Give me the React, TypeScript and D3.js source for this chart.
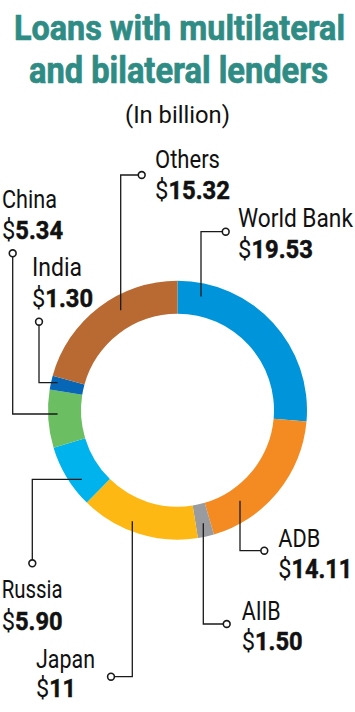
import { useEffect, useRef } from "react";
import * as d3 from "d3";

// lenders, clockwise from 12 o'clock
const lenders = ["World Bank", "ADB", "AIIB", "Japan", "Russia", "China", "India", "Others"];
const amounts = [19.53, 14.11, 1.5, 11, 5.9, 5.34, 1.3, 15.32];
const amountLabels = ["19.53", "14.11", "1.50", "11", "5.90", "5.34", "1.30", "15.32"];
const colors = ["#0095da", "#f38a22", "#999b9e", "#fdb814", "#00b3ec", "#6cbe63", "#0866b7", "#b96a33"];

// label placement (layout only)
type Lay = {
  x: number; ny: number; vy: number; nw: number; vw: number;
  dot: [number, number]; dir: "v" | "h"; at: number; r: number;
};
const layout: Record<string, Lay> = {
  "World Bank": { x: 238, ny: 227, vy: 258, nw: 115, vw: 75, dot: [225.7, 231.7], dir: "v", at: 201, r: 116 },
  Others: { x: 155, ny: 168, vy: 199, nw: 65, vw: 75, dot: [141.7, 175], dir: "v", at: 120.7, r: 115 },
  China: { x: 2, ny: 208, vy: 239, nw: 55, vw: 61, dot: [12.7, 253.3], dir: "h", at: 414, r: 120 },
  India: { x: 32, ny: 276, vy: 306.5, nw: 50, vw: 61, dot: [39, 321.7], dir: "h", at: 382.7, r: 123 },
  Russia: { x: 1.7, ny: 598.3, vy: 630, nw: 61, vw: 61, dot: [32.3, 563.3], dir: "h", at: 479.3, r: 118 },
  Japan: { x: 36, ny: 668.3, vy: 696.7, nw: 59, vw: 40, dot: [111, 676.7], dir: "v", at: 132.3, r: 120 },
  AIIB: { x: 241.7, ny: 620, vy: 650, nw: 39, vw: 61, dot: [226.7, 624], dir: "v", at: 203.3, r: 116 },
  ADB: { x: 278.3, ny: 546.7, vy: 578.3, nw: 42, vw: 74, dot: [264.3, 550.7], dir: "v", at: 240, r: 110 },
};

const FONT = "Roboto, 'Noto Sans', sans-serif";

type Sel = d3.Selection<SVGTextElement, unknown, null, undefined>;

// squeeze a text horizontally so it spans exactly w pixels (condensed look)
function fit(t: Sel, x: number, y: number, w: number) {
  const nat = t.node()!.getComputedTextLength() || w;
  t.attr("transform", `translate(${x},${y}) scale(${w / nat},1)`);
}

export default function App() {
  const width = 355;
  const height = 712;
  const svgRef = useRef<SVGSVGElement>(null);

  useEffect(() => {
    const svg = d3.select(svgRef.current);
    svg.selectAll("*").remove();

    const cx = 177.5;
    const cy = 410.2;
    const outerR = 129.5;
    const innerR = 96.5;

    const data = lenders.map((name, i) => ({ name, value: amounts[i], label: amountLabels[i], color: colors[i] }));
    type D = (typeof data)[number];

    const pie = d3.pie<D>().sort(null).value((d) => d.value);
    const arc = d3.arc<d3.PieArcDatum<D>>().innerRadius(innerR).outerRadius(outerR);

    // title
    const teal = "#2e8c84";
    const title = svg.append("g").attr("font-family", FONT);
    const t1 = title.append("text").attr("font-size", 36).attr("font-weight", "bold")
      .attr("fill", teal).attr("stroke", teal).attr("stroke-width", 0.7)
      .text("Loans with multilateral") as unknown as Sel;
    fit(t1, 14, 40, 331);
    const t2 = title.append("text").attr("font-size", 36).attr("font-weight", "bold")
      .attr("fill", teal).attr("stroke", teal).attr("stroke-width", 0.7)
      .text("and bilateral lenders") as unknown as Sel;
    fit(t2, 29, 83, 299);
    const t3 = title.append("text").attr("font-size", 24.5).attr("fill", "#111")
      .text("(In billion)") as unknown as Sel;
    fit(t3, 125, 123, 105);

    // donut
    const g = svg.append("g").attr("transform", `translate(${cx},${cy})`);
    g.selectAll("path")
      .data(pie(data))
      .join("path")
      .attr("fill", (d) => d.data.color)
      .attr("d", arc);

    // leaders
    const leaders = svg.append("g");
    data.forEach((d) => {
      const l = layout[d.name];
      const [dx0, dy0] = l.dot;
      let pts: [number, number][];
      if (l.dir === "v") {
        const dx = l.at - cx;
        const off = Math.sqrt(l.r * l.r - dx * dx);
        const ry = dy0 < cy ? cy - off : cy + off;
        pts = [[dx0, dy0], [l.at, dy0], [l.at, ry]];
      } else {
        const dy = l.at - cy;
        const off = Math.sqrt(l.r * l.r - dy * dy);
        pts = [[dx0, dy0], [dx0, l.at], [cx - off, l.at]];
      }
      leaders.append("path")
        .attr("d", d3.line()(pts))
        .attr("fill", "none")
        .attr("stroke", "#1a1a1a")
        .attr("stroke-width", 1.3);
      leaders.append("circle")
        .attr("cx", dx0).attr("cy", dy0).attr("r", 3.4)
        .attr("fill", "#fff").attr("stroke", "#1a1a1a").attr("stroke-width", 1.6);
    });

    // labels
    const labels = svg.append("g").attr("font-family", FONT).attr("fill", "#111");
    data.forEach((d) => {
      const l = layout[d.name];
      const n = labels.append("text").attr("font-size", 25.5).text(d.name) as unknown as Sel;
      fit(n, l.x, l.ny, l.nw);
      const v = labels.append("text").attr("font-size", 25.5) as unknown as Sel;
      v.append("tspan").text("$");
      v.append("tspan").attr("font-weight", "bold")
        .attr("stroke", "#111").attr("stroke-width", 0.5)
        .text(d.label);
      fit(v, l.x, l.vy, l.vw);
    });
  }, []);

  return (
    <svg
      ref={svgRef}
      width={width}
      height={height}
      style={{ position: "absolute", left: 0, top: 0, background: "#fff" }}
    ></svg>
  );
}
